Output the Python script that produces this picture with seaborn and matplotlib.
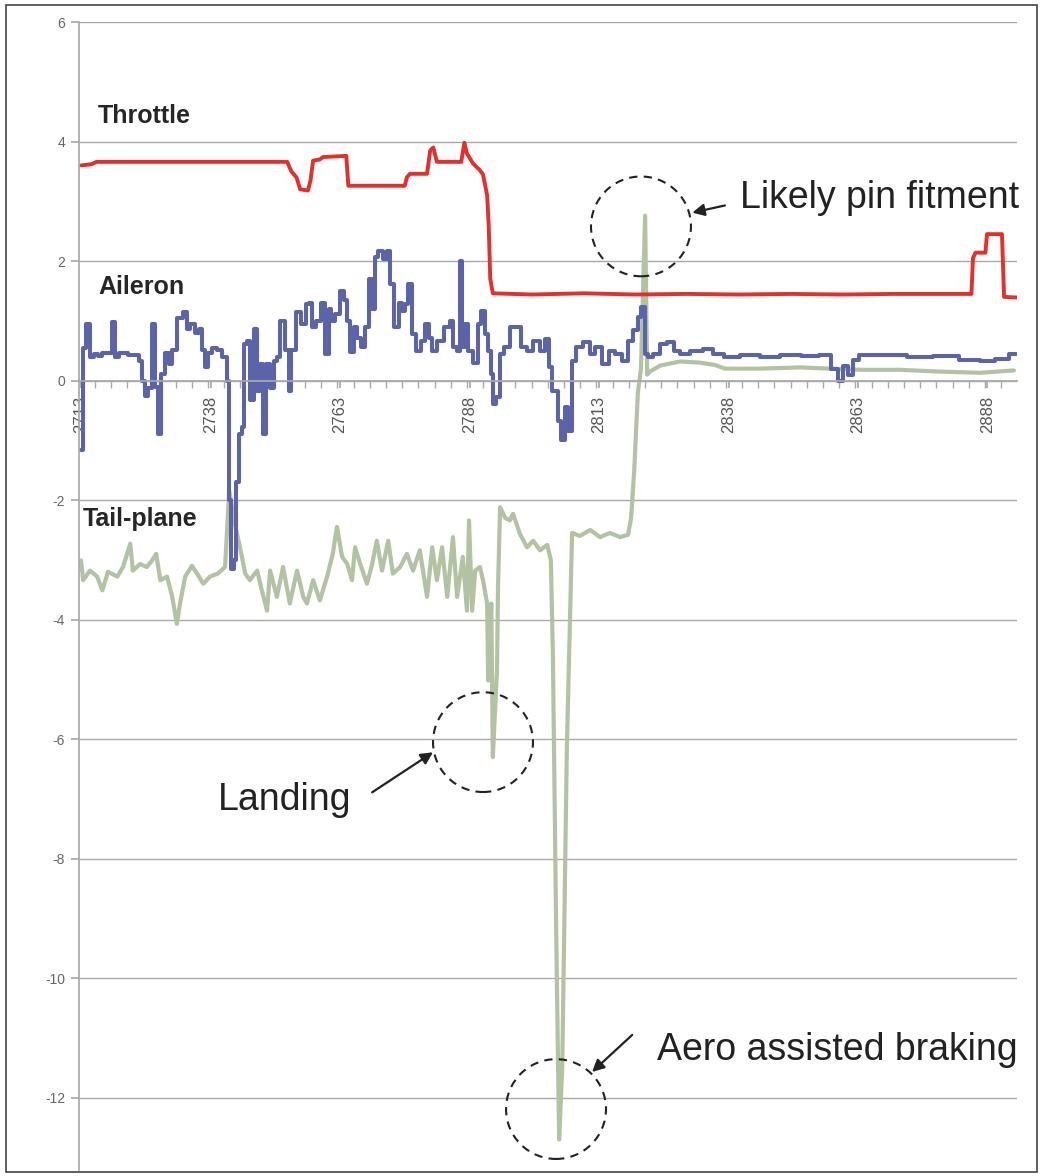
import matplotlib
matplotlib.use('Agg')
import matplotlib.pyplot as plt
from matplotlib.patches import Ellipse, Rectangle
from matplotlib.ticker import MultipleLocator
import seaborn as sns

# Throttle trace (red)
throttle_x = [2713.0, 2715.0, 2716.0, 2752.8, 2753.6, 2754.6, 2755.3, 2756.8, 2757.3, 2757.8,
              2759.1, 2759.7, 2764.2, 2764.6, 2775.5, 2775.9, 2776.5, 2779.8, 2780.4, 2781.0,
              2781.7, 2786.4, 2787.0, 2787.5, 2788.7, 2790.0, 2790.6, 2791.4, 2791.7, 2792.0,
              2792.5, 2800.0, 2810.0, 2820.0, 2830.0, 2840.0, 2850.0, 2860.0, 2870.0, 2884.9,
              2885.2, 2885.7, 2887.6, 2887.9, 2890.8, 2891.2, 2893.6]
throttle_y = [3.60, 3.62, 3.66, 3.66, 3.50, 3.40, 3.20, 3.18, 3.35, 3.68,
              3.70, 3.74, 3.76, 3.26, 3.26, 3.40, 3.46, 3.46, 3.85, 3.90,
              3.66, 3.66, 3.98, 3.80, 3.63, 3.52, 3.45, 3.10, 2.60, 1.70,
              1.46, 1.44, 1.46, 1.44, 1.45, 1.44, 1.45, 1.44, 1.45, 1.45,
              2.05, 2.14, 2.14, 2.45, 2.45, 1.40, 1.39]

# Aileron trace (blue)
aileron_x = [2713.0, 2713.6, 2714.4, 2715.1, 2715.7, 2716.7, 2717.2, 2718.6, 2719.2, 2720.0,
             2720.5, 2723.8, 2724.4, 2725.0, 2725.7, 2726.3, 2726.9, 2727.7, 2728.1, 2728.8,
             2729.6, 2730.2, 2730.8, 2732.1, 2733.1, 2733.7, 2734.4, 2735.4, 2736.0, 2736.6,
             2737.3, 2737.9, 2738.5, 2739.8, 2740.8, 2741.4, 2741.8, 2742.2, 2742.7, 2743.1,
             2743.7, 2744.3, 2744.7, 2745.2, 2746.0, 2746.6, 2747.2, 2747.9, 2748.5, 2749.1,
             2749.9, 2750.5, 2751.0, 2752.0, 2752.8, 2753.3, 2753.9, 2754.9, 2755.9, 2756.8,
             2757.2, 2757.8, 2758.8, 2759.7, 2760.5, 2761.1, 2761.6, 2762.4, 2763.4, 2764.0,
             2764.5, 2765.3, 2765.9, 2766.5, 2767.4, 2768.2, 2768.8, 2769.4, 2770.1, 2770.7,
             2771.7, 2772.3, 2773.0, 2774.0, 2774.6, 2775.2, 2775.9, 2776.5, 2777.1, 2778.1,
             2779.0, 2779.8, 2780.4, 2781.0, 2782.3, 2783.7, 2784.6, 2785.2, 2785.8, 2786.4,
             2786.7, 2787.5, 2788.1, 2789.1, 2790.0, 2790.6, 2791.4, 2791.8, 2792.3, 2792.9,
             2793.5, 2794.3, 2795.2, 2796.4, 2797.7, 2798.3, 2799.7, 2801.0, 2802.2, 2803.0,
             2803.5, 2804.5, 2805.5, 2805.9, 2806.8, 2807.4, 2808.0, 2809.3, 2810.7, 2811.8,
             2812.8, 2814.2, 2815.5, 2816.7, 2818.0, 2819.0, 2820.0, 2820.9, 2821.5, 2822.1,
             2822.8, 2824.2, 2825.4, 2826.7, 2828.1, 2829.2, 2831.9, 2834.4, 2835.8, 2838.3,
             2842.0, 2846.0, 2850.0, 2854.0, 2857.0, 2858.6, 2859.7, 2860.7, 2861.5, 2862.4,
             2863.8, 2866.0, 2870.0, 2875.0, 2880.0, 2885.0, 2888.0, 2891.0, 2893.5]
aileron_y = [-1.17, 0.55, 0.95, 0.39, 0.45, 0.41, 0.46, 0.46, 0.98, 0.39,
             0.46, 0.42, 0.33, 0.00, -0.26, -0.12, 0.95, -0.10, -0.89, 0.11,
             0.46, 0.28, 0.51, 1.05, 1.14, 0.87, 0.95, 0.79, 0.87, 0.51,
             0.22, 0.46, 0.55, 0.51, 0.39, 0.00, -2.00, -3.15, -3.00, -1.70,
             -0.89, -0.77, 0.61, 0.67, -0.33, 0.87, -0.17, 0.28, -0.89, 0.28,
             -0.12, 0.33, 0.39, 1.00, 0.51, -0.17, 0.51, 1.14, 0.95, 1.28,
             1.30, 0.89, 1.00, 1.30, 0.45, 1.20, 1.00, 1.11, 1.50, 1.34,
             1.00, 0.47, 0.89, 0.72, 0.56, 0.89, 1.70, 1.20, 2.06, 2.17,
             2.04, 2.17, 1.62, 0.89, 1.30, 1.17, 1.28, 1.62, 0.78, 0.50,
             0.67, 0.95, 0.72, 0.50, 0.67, 0.89, 1.00, 0.56, 0.50, 2.00,
             0.56, 0.95, 0.50, 0.30, 0.95, 1.17, 0.78, 0.50, 0.11, -0.39,
             -0.28, 0.45, 0.56, 0.89, 0.89, 0.56, 0.50, 0.67, 0.50, 0.70,
             0.22, -0.17, -0.67, -1.00, -0.45, -0.84, 0.33, 0.56, 0.64, 0.45,
             0.56, 0.28, 0.50, 0.45, 0.33, 0.67, 0.84, 1.06, 1.23, 0.45,
             0.39, 0.45, 0.61, 0.64, 0.50, 0.45, 0.50, 0.52, 0.45, 0.39,
             0.42, 0.40, 0.42, 0.41, 0.42, 0.20, 0.00, 0.25, 0.10, 0.35,
             0.42, 0.43, 0.42, 0.40, 0.41, 0.35, 0.33, 0.36, 0.45]

# Tail-plane trace (green)
tail_x = [2713.0, 2713.4, 2714.7, 2716.1, 2717.1, 2718.2, 2720.0, 2721.1, 2722.5, 2723.0,
          2724.4, 2725.7, 2726.7, 2727.5, 2728.3, 2729.6, 2730.6, 2731.5, 2732.1, 2733.1,
          2734.4, 2735.4, 2736.6, 2737.9, 2739.4, 2740.8, 2741.6, 2742.7, 2743.7, 2744.7,
          2745.6, 2747.0, 2747.9, 2748.9, 2749.5, 2750.8, 2752.0, 2753.3, 2754.7, 2755.9,
          2756.6, 2757.8, 2759.1, 2760.5, 2761.6, 2762.4, 2763.4, 2764.4, 2765.3, 2765.9,
          2766.9, 2768.2, 2769.2, 2770.1, 2771.1, 2772.3, 2773.2, 2774.6, 2775.9, 2777.1,
          2778.4, 2779.8, 2780.8, 2781.7, 2782.7, 2783.7, 2784.8, 2785.6, 2786.7, 2787.5,
          2787.9, 2788.5, 2789.1, 2790.0, 2790.6, 2791.4, 2791.6, 2792.2, 2792.5, 2793.3,
          2793.5, 2793.9, 2794.9, 2795.8, 2796.4, 2797.7, 2799.1, 2800.3, 2801.6, 2803.0,
          2803.7, 2804.1, 2804.7, 2805.1, 2805.3, 2805.9, 2806.8, 2807.8, 2809.3, 2811.3,
          2813.2, 2815.1, 2817.1, 2818.6, 2819.2, 2819.8, 2820.5, 2821.1, 2821.9, 2822.3,
          2822.8, 2824.8, 2828.6, 2832.5, 2835.4, 2837.3, 2844.1, 2851.8, 2857.6, 2863.4,
          2871.1, 2878.8, 2886.6, 2893.1]
tail_y = [-3.01, -3.34, -3.18, -3.28, -3.51, -3.20, -3.28, -3.12, -2.73, -3.18,
          -3.07, -3.12, -3.01, -2.90, -3.34, -3.28, -3.62, -4.07, -3.73, -3.28,
          -3.10, -3.23, -3.40, -3.28, -3.23, -3.12, -1.84, -2.40, -2.80, -3.23,
          -3.34, -3.18, -3.51, -3.85, -3.18, -3.62, -3.12, -3.73, -3.18, -3.62,
          -3.73, -3.34, -3.68, -3.28, -2.90, -2.45, -2.95, -3.07, -3.34, -2.79,
          -3.07, -3.40, -3.07, -2.68, -3.18, -2.68, -3.23, -3.12, -2.90, -3.18,
          -2.84, -3.62, -2.79, -3.34, -2.79, -3.62, -2.62, -3.62, -2.95, -3.85,
          -2.34, -3.85, -3.18, -3.12, -3.34, -3.73, -5.02, -3.73, -6.30, -4.85,
          -3.45, -2.12, -2.30, -2.34, -2.23, -2.56, -2.79, -2.68, -2.84, -2.75,
          -3.00, -4.60, -9.00, -11.50, -12.70, -11.50, -6.10, -2.55, -2.60, -2.50,
          -2.62, -2.55, -2.62, -2.58, -2.30, -1.50, -0.20, 0.20, 2.76, 0.10,
          0.15, 0.25, 0.32, 0.30, 0.26, 0.20, 0.20, 0.22, 0.20, 0.18,
          0.18, 0.15, 0.13, 0.17]

x_labels = [2713, 2738, 2763, 2788, 2813, 2838, 2863, 2888]
y_ticks = [-12, -10, -8, -6, -4, -2, 0, 2, 4, 6]

sns.set_theme(style='white')
plt.rcParams['font.family'] = ['Liberation Sans', 'DejaVu Sans']
plt.rcParams['axes.unicode_minus'] = False

fig = plt.figure(figsize=(10.41, 11.76), dpi=100)
ax = fig.add_axes([79 / 1041, 1 - 1170 / 1176, (1017 - 79) / 1041, (1170 - 22) / 1176])

sns.lineplot(x=tail_x, y=tail_y, ax=ax, sort=False, estimator=None, color='#b3c2a2', lw=3.0)
sns.lineplot(x=aileron_x, y=aileron_y, ax=ax, sort=False, estimator=None, color='#5b63a9',
             lw=2.9, drawstyle='steps-mid')
sns.lineplot(x=throttle_x, y=throttle_y, ax=ax, sort=False, estimator=None, color='#e3302c',
             lw=2.8)

ax.set_xlim(2712.6, 2893.7)
ax.set_ylim(-13.21, 6)

# axis styling
grid_col = '#a9a9a9'
ax.set_axisbelow(True)
ax.set_yticks(y_ticks)
ax.yaxis.grid(True, color=grid_col, lw=1.0)
ax.xaxis.grid(False)
ax.spines['top'].set_visible(False)
ax.spines['right'].set_visible(False)
ax.spines['left'].set_color(grid_col)
ax.spines['bottom'].set_color(grid_col)
ax.spines['bottom'].set_position(('data', 0))
ax.tick_params(axis='y', which='major', left=True, length=6, color=grid_col,
               labelsize=10, labelcolor='#666666', pad=4)
ax.set_xticks(x_labels)
ax.set_xticklabels([str(v) for v in x_labels], rotation=90)
ax.xaxis.set_minor_locator(MultipleLocator(25 / 8))
ax.tick_params(axis='x', which='both', bottom=True, direction='out', length=5,
               color=grid_col, labelsize=12, labelcolor='#555555', pad=6)
ax.set_xlabel('')
ax.set_ylabel('')

# series names
name_style = dict(fontsize=18, fontweight='bold', color='#262626', va='center', ha='left')
ax.text(2716.3, 4.43, 'Throttle', **name_style)
ax.text(2716.3, 1.56, 'Aileron', **name_style)
ax.text(2713.4, -2.32, 'Tail-plane', **name_style)

# call-outs
note_style = dict(fontsize=27, color='#222222', va='center', ha='left')
ax.text(2840.2, 3.06, 'Likely pin fitment', **note_style)
ax.text(2739.4, -7.02, 'Landing', **note_style)
ax.text(2824.2, -11.2, 'Aero assisted braking', **note_style)

arrow = dict(arrowstyle='-|>', color='#222222', lw=1.6, mutation_scale=18, shrinkA=0, shrinkB=0)
ax.annotate('', xy=(2831.0, 2.81), xytext=(2837.3, 2.93), arrowprops=arrow)
ax.annotate('', xy=(2780.95, -6.22), xytext=(2769.2, -6.89), arrowprops=arrow)
ax.annotate('', xy=(2811.65, -11.57), xytext=(2819.4, -10.95), arrowprops=arrow)

for cx, cy in [(2821.1, 2.58), (2790.6, -6.05), (2804.7, -12.19)]:
    ax.add_patch(Ellipse((cx, cy), 19.3, 1.67, fill=False, ec='#222222', lw=1.5,
                         ls=(0, (4, 3)), zorder=5))

# outer frame
fig.patches.append(Rectangle((6 / 1041, 4 / 1176), 1031 / 1041, 1167 / 1176, fill=False,
                             ec='#444444', lw=1.2, transform=fig.transFigure, figure=fig))

fig.savefig('out.png', dpi=100, facecolor='white')
